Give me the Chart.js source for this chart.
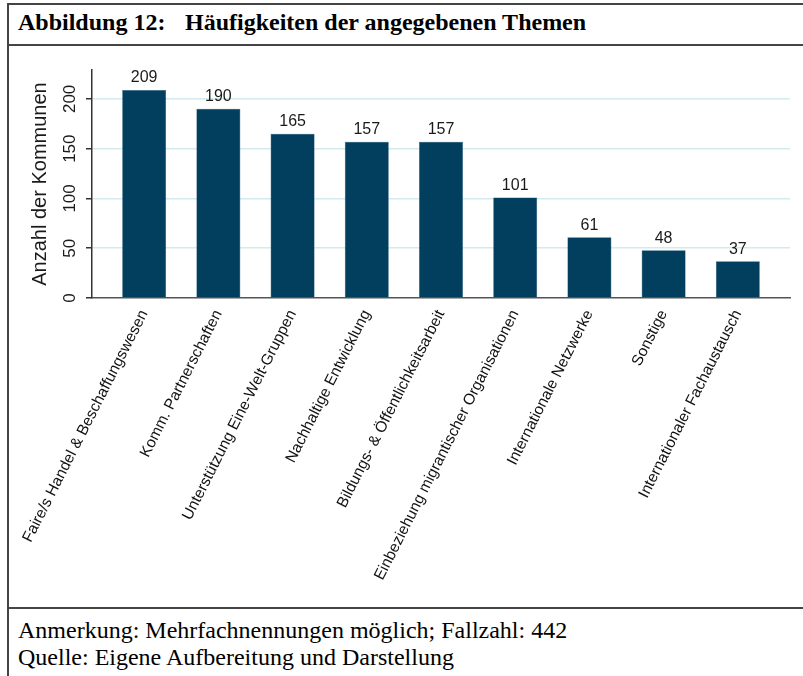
<!DOCTYPE html>
<html lang="de">
<head>
<meta charset="utf-8">
<title>Abbildung 12</title>
<script src="https://cdn.jsdelivr.net/npm/chart.js@4/dist/chart.umd.min.js"></script>
<style>
    body { margin: 0; background: #fff; width: 803px; height: 676px; overflow: hidden; position: relative; }
    #frame { position: absolute; left: 7px; top: 3px; width: 820px; height: 700px; border-left: 2px solid #444; border-top: 2px solid #444; }
    .rule { position: absolute; left: 7px; width: 800px; height: 2px; background: #444; }
    .serif { position: absolute; left: 18px; font-family: "Liberation Serif", "Times New Roman", serif; color: #000; white-space: nowrap; }
    #title { top: 9px; font-size: 24px; font-weight: bold; }
    #title span { display: inline-block; width: 167px; }
    #note { top: 617px; font-size: 24px; }
    #source { top: 644px; font-size: 24px; }
    #chartBox { position: absolute; left: 9px; top: 46px; width: 794px; height: 562px; }
</style>
</head>
<body>
<div id="frame"></div>
<div class="rule" style="top:44px"></div>
<div class="rule" style="top:607px"></div>
<div id="title" class="serif"><span>Abbildung 12:</span>Häufigkeiten der angegebenen Themen</div>
<div id="note" class="serif">Anmerkung: Mehrfachnennungen möglich; Fallzahl: 442</div>
<div id="source" class="serif">Quelle: Eigene Aufbereitung und Darstellung</div>
<div id="chartBox"><canvas id="themen-chart" width="794" height="562"></canvas></div>

<script>
var categories = [
    'Faire/s Handel & Beschaffungswesen',
    'Komm. Partnerschaften',
    'Unterstützung Eine-Welt-Gruppen',
    'Nachhaltige Entwicklung',
    'Bildungs- & Öffentlichkeitsarbeit',
    'Einbeziehung migrantischer Organisationen',
    'Internationale Netzwerke',
    'Sonstige',
    'Internationaler Fachaustausch'
];
var counts = [209, 190, 165, 157, 157, 101, 61, 48, 37];
var yTicks = [0, 50, 100, 150, 200];

var barColor = '#023f5f';
var sansFont = 'Arial, "Liberation Sans", sans-serif';

// Zahlen über den Balken
var valueLabels = {
    id: 'valueLabels',
    afterDatasetsDraw: function (chart) {
        var ctx = chart.ctx;
        var meta = chart.getDatasetMeta(0);
        ctx.save();
        ctx.font = '16px ' + sansFont;
        ctx.fillStyle = '#1a1a1a';
        ctx.textAlign = 'center';
        ctx.textBaseline = 'bottom';
        meta.data.forEach(function (bar, i) {
            ctx.fillText(counts[i], bar.x, bar.y - 4);
        });
        ctx.restore();
    }
};

document.addEventListener("DOMContentLoaded", function () {
    var chartContainer = document.getElementById('themen-chart');

    new Chart(chartContainer, {
        type: 'bar',
        data: {
            datasets: [{
                label: 'Anzahl der Kommunen',
                data: counts.map((v, i) => ({ x: i, y: v })),
                backgroundColor: barColor,
                borderColor: '#1d5a78',
                borderWidth: 0.5,
                categoryPercentage: 1,
                barPercentage: 0.593
            }]
        },
        options: {
            responsive: false,
            animation: false,
            devicePixelRatio: 1,
            layout: { padding: { top: 24, right: 13, left: 0, bottom: 0 } },
            plugins: {
                legend: { display: false },
                tooltip: { enabled: false }
            },
            scales: {
                x: {
                    type: 'linear',
                    min: -0.703,
                    max: 8.703,
                    offset: false,
                    afterBuildTicks: function (scale) {
                        scale.ticks = categories.map((c, i) => ({ value: i }));
                    },
                    afterFit: function (scale) { scale.height = 310; },
                    ticks: {
                        autoSkip: false,
                        minRotation: 63,
                        maxRotation: 63,
                        padding: 1,
                        color: '#111',
                        font: { family: sansFont, size: 15.5 },
                        callback: function (value) { return categories[value]; }
                    },
                    grid: { display: false },
                    border: { color: '#555', width: 1.5 }
                },
                y: {
                    min: 0,
                    max: 229,
                    afterBuildTicks: function (scale) {
                        scale.ticks = yTicks.map(v => ({ value: v }));
                    },
                    afterFit: function (scale) { scale.width = 83; },
                    ticks: {
                        minRotation: 90,
                        maxRotation: 90,
                        crossAlign: 'center',
                        padding: 2,
                        color: '#1a1a1a',
                        font: { family: sansFont, size: 17 }
                    },
                    grid: {
                        color: ctx => ctx.tick && ctx.tick.value === 0 ? 'rgba(0,0,0,0)' : '#d3eaee',
                        lineWidth: 1.5,
                        tickColor: '#333',
                        tickLength: 6
                    },
                    border: { color: '#333', width: 1.5 },
                    title: {
                        display: true,
                        text: 'Anzahl der Kommunen',
                        color: '#1a1a1a',
                        font: { family: sansFont, size: 20 },
                        padding: { top: 19, bottom: 0 }
                    }
                }
            }
        },
        plugins: [valueLabels]
    });
});
</script>
</body>
</html>
